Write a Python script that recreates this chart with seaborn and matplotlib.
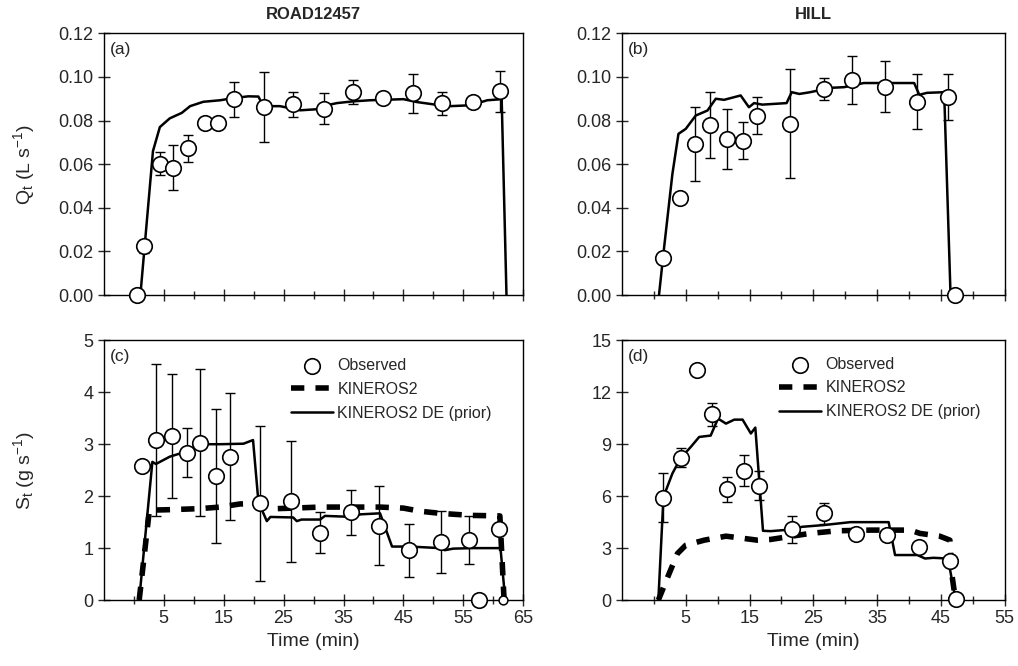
import numpy as np
import pandas as pd
import seaborn as sns
import matplotlib.pyplot as plt
from matplotlib.ticker import MultipleLocator, FixedLocator, FormatStrFormatter

# =============================================================================
# Data
# =============================================================================

# (a) ROAD12457 discharge
road_q_obs_t = [0.5, 1.7, 4.3, 6.5, 9.1, 11.9, 14.1, 16.7, 21.7, 26.6, 31.7, 36.6, 41.6, 46.6, 51.4, 56.6, 61.2]
road_q_obs = [0.0, 0.0224, 0.0603, 0.0583, 0.0672, 0.0789, 0.0790, 0.0898, 0.0863, 0.0875, 0.0855, 0.0931,
              0.0905, 0.0924, 0.0880, 0.0885, 0.0934]
road_q_err = [0.0, 0.003, 0.0054, 0.0103, 0.0063, 0.002, 0.0, 0.008, 0.016, 0.0057, 0.007, 0.0057,
              0.0, 0.009, 0.0053, 0.0, 0.0095]
road_q_de_t = [1.1, 3.2, 4.35, 6.0, 8.0, 9.4, 11.6, 14.4, 16.6, 19.1, 20.8, 21.6, 24.4, 27.8, 30.6, 32.2,
               33.9, 36.6, 39.4, 45.0, 47.2, 51.1, 52.8, 56.2, 59.0, 61.4, 62.2]
road_q_de = [0.0, 0.066, 0.077, 0.081, 0.0835, 0.0866, 0.0886, 0.0893, 0.0903, 0.0911, 0.0910, 0.0866,
             0.0866, 0.0847, 0.0852, 0.0870, 0.0880, 0.0888, 0.0893, 0.0898, 0.0885, 0.0870, 0.0866,
             0.0870, 0.0893, 0.0898, 0.0]

# (b) HILL discharge
hill_q_obs_t = [1.4, 4.1, 6.4, 8.8, 11.4, 13.9, 16.2, 21.3, 26.6, 31.1, 36.3, 41.3, 46.1, 47.2]
hill_q_obs = [0.0172, 0.0447, 0.0693, 0.0780, 0.0716, 0.0708, 0.0823, 0.0785, 0.0946, 0.0984, 0.0956,
              0.0887, 0.0907, 0.0]
hill_q_err = [0.0, 0.0, 0.017, 0.0153, 0.0138, 0.0084, 0.0084, 0.025, 0.005, 0.011, 0.0116, 0.0125,
              0.0106, 0.0]
hill_q_de_t = [0.8, 1.6, 2.9, 3.85, 5.0, 6.56, 8.4, 9.7, 11.0, 13.6, 14.9, 15.7, 17.0, 20.8, 21.6, 22.8,
               24.5, 27.7, 29.8, 32.9, 36.5, 40.8, 41.6, 42.8, 45.5, 46.5]
hill_q_de = [0.0, 0.0218, 0.0555, 0.0739, 0.0762, 0.0823, 0.0846, 0.0900, 0.0895, 0.0915, 0.0861, 0.0880,
             0.0873, 0.0880, 0.0930, 0.0922, 0.0930, 0.0950, 0.0953, 0.0972, 0.0972, 0.0972, 0.0918,
             0.0927, 0.0930, 0.0]

# (c) ROAD12457 sediment
road_s_obs_t = [1.3, 3.7, 6.3, 8.8, 11.0, 13.8, 16.1, 21.1, 26.3, 31.1, 36.2, 41.0, 46.0, 51.3, 55.9,
                57.6, 60.9]
road_s_obs = [2.58, 3.08, 3.16, 2.84, 3.03, 2.39, 2.76, 1.86, 1.90, 1.30, 1.69, 1.43, 0.96, 1.12, 1.15,
              0.0, 1.37]
road_s_err = [0.0, 1.47, 1.2, 0.47, 1.42, 1.29, 1.22, 1.5, 1.17, 0.4, 0.43, 0.76, 0.51, 0.6, 0.46,
              0.0, 0.0]
road_s_end_t = [61.7]   # last observation, drawn with a smaller circle
road_s_end = [0.0]
road_s_k2_t = [0.9, 2.6, 6.0, 11.0, 14.4, 17.7, 21.1, 23.8, 26.6, 31.1, 36.7, 41.1, 45.0, 47.8, 51.1,
               56.2, 61.1, 61.8]
road_s_k2 = [0.0, 1.73, 1.74, 1.76, 1.79, 1.85, 1.86, 1.76, 1.77, 1.79, 1.79, 1.79, 1.77, 1.71, 1.67,
             1.63, 1.62, 0.0]
road_s_de_t = [0.9, 3.1, 3.7, 6.0, 8.5, 11.0, 14.4, 18.3, 19.9, 20.8, 22.2, 22.8, 26.6, 27.2, 28.0, 31.1,
               31.9, 36.7, 37.8, 41.1, 43.1, 46.1, 51.1, 51.9, 53.3, 56.6, 61.2, 62.0]
road_s_de = [0.0, 2.66, 2.62, 2.76, 2.85, 3.0, 3.0, 3.01, 3.08, 1.89, 1.52, 1.60, 1.59, 1.52, 1.55, 1.55,
             1.62, 1.60, 1.65, 1.67, 1.03, 1.03, 1.00, 0.96, 0.99, 1.00, 1.00, 0.0]

# (d) HILL sediment
hill_s_obs_t = [1.5, 4.2, 6.7, 9.1, 11.5, 14.1, 16.5, 21.7, 26.6, 31.7, 36.5, 41.6, 46.4, 47.4]
hill_s_obs = [5.9, 8.23, 13.31, 10.73, 6.4, 7.46, 6.6, 4.08, 5.0, 3.79, 3.75, 3.08, 2.27, 0.06]
hill_s_err = [1.41, 0.55, 0.0, 0.67, 0.73, 0.89, 0.85, 0.77, 0.63, 0.0, 0.0, 0.0, 0.0, 0.0]
hill_s_k2_t = [0.7, 2.4, 3.7, 5.0, 7.9, 11.3, 14.1, 16.2, 18.3, 20.9, 24.5, 28.7, 33.9, 40.2, 41.7, 44.8,
               46.4, 46.7, 47.2, 47.4]
hill_s_k2 = [0.0, 1.54, 2.69, 3.17, 3.46, 3.69, 3.56, 3.46, 3.50, 3.65, 3.85, 4.0, 4.04, 4.04, 3.85, 3.69,
             3.46, 1.5, 0.2, 0.0]
hill_s_de_t = [0.7, 1.5, 2.9, 4.2, 5.8, 7.1, 8.9, 10.05, 11.3, 12.6, 13.9, 15.2, 15.9, 17.1, 18.3, 21.7,
               23.2, 26.6, 30.8, 36.8, 37.8, 41.3, 42.5, 43.8, 46.1, 47.2, 47.4]
hill_s_de = [0.0, 5.96, 7.31, 8.2, 8.85, 9.42, 9.5, 10.48, 10.19, 10.42, 10.42, 9.62, 9.96, 4.0, 3.98,
             4.08, 4.23, 4.33, 4.5, 4.5, 2.6, 2.6, 2.4, 2.44, 2.4, 0.2, 0.0]

# =============================================================================
# Style
# =============================================================================

sns.set_style("ticks")
plt.rcParams["font.family"] = ["Liberation Sans", "DejaVu Sans"]
plt.rcParams["mathtext.fontset"] = "custom"
plt.rcParams["mathtext.rm"] = "Liberation Sans"
plt.rcParams["mathtext.it"] = "Liberation Sans:italic"

TICK_FS = 13
LABEL_FS = 14

fig = plt.figure(figsize=(10.18, 6.66), dpi=100)
ax_a = fig.add_axes([0.102, 0.557, 0.412, 0.393])
ax_b = fig.add_axes([0.611, 0.557, 0.376, 0.393])
ax_c = fig.add_axes([0.102, 0.099, 0.412, 0.390])
ax_d = fig.add_axes([0.611, 0.099, 0.376, 0.390])


def draw_obs(ax, t, y, err):
    ax.errorbar(t, y, yerr=err, fmt="none", ecolor="black", elinewidth=1.0,
                capsize=3.5, capthick=1.0, zorder=2)
    sns.scatterplot(x=t, y=y, ax=ax, s=125, color="white", edgecolor="black",
                    linewidth=1.2, zorder=4, label="Observed", clip_on=False)


def draw_de(ax, t, y):
    sns.lineplot(x=t, y=y, ax=ax, sort=False, estimator=None, color="black",
                 linewidth=1.8, zorder=3, label="KINEROS2 DE (prior)")


def draw_k2(ax, t, y):
    sns.lineplot(x=t, y=y, ax=ax, sort=False, estimator=None, color="black",
                 linewidth=4.0, linestyle=(0, (2.4, 2.0)), zorder=3, label="KINEROS2")


def style_axes(ax, xmax, ylim, ystep, yfmt, tag):
    ax.set_xlim(-5, xmax)
    ax.set_ylim(*ylim)
    ax.xaxis.set_major_locator(FixedLocator(np.arange(5, xmax + 1, 10)))
    ax.xaxis.set_minor_locator(FixedLocator(np.arange(0, xmax, 10)))
    ax.yaxis.set_major_locator(MultipleLocator(ystep))
    ax.yaxis.set_major_formatter(FormatStrFormatter(yfmt))
    ax.tick_params(which="both", direction="inout", length=8, width=1.0,
                   labelsize=TICK_FS, top=False, right=False)
    ax.tick_params(which="minor", length=6)
    for sp in ax.spines.values():
        sp.set_linewidth(1.0)
        sp.set_color("black")
    ax.set_xlabel("")
    ax.set_ylabel("")
    ax.text(0.015, 0.965, tag, transform=ax.transAxes, ha="left", va="top", fontsize=12.5)


# (a)
draw_obs(ax_a, road_q_obs_t, road_q_obs, road_q_err)
draw_de(ax_a, road_q_de_t, road_q_de)
style_axes(ax_a, 65, (0, 0.12), 0.02, "%.2f", "(a)")
ax_a.set_xticklabels([])
ax_a.legend_.remove()
ax_a.set_title("ROAD12457", fontsize=12, fontweight="bold", pad=10)
ax_a.set_ylabel("Q$_\\mathrm{t}$ (L s$^{-1}$)", fontsize=LABEL_FS)

# (b)
draw_obs(ax_b, hill_q_obs_t, hill_q_obs, hill_q_err)
draw_de(ax_b, hill_q_de_t, hill_q_de)
style_axes(ax_b, 55, (0, 0.12), 0.02, "%.2f", "(b)")
ax_b.set_xticklabels([])
ax_b.legend_.remove()
ax_b.set_title("HILL", fontsize=12, fontweight="bold", pad=10)

# (c)
draw_obs(ax_c, road_s_obs_t, road_s_obs, road_s_err)
sns.scatterplot(x=road_s_end_t, y=road_s_end, ax=ax_c, s=40, color="white",
                edgecolor="black", linewidth=1.1, zorder=4, clip_on=False)
draw_k2(ax_c, road_s_k2_t, road_s_k2)
draw_de(ax_c, road_s_de_t, road_s_de)
style_axes(ax_c, 65, (0, 5), 1, "%d", "(c)")
ax_c.set_ylabel("S$_\\mathrm{t}$ (g s$^{-1}$)", fontsize=LABEL_FS)
ax_c.set_xlabel("Time (min)", fontsize=LABEL_FS)

# (d)
draw_obs(ax_d, hill_s_obs_t, hill_s_obs, hill_s_err)
draw_k2(ax_d, hill_s_k2_t, hill_s_k2)
draw_de(ax_d, hill_s_de_t, hill_s_de)
style_axes(ax_d, 55, (0, 15), 3, "%d", "(d)")
ax_d.set_xlabel("Time (min)", fontsize=LABEL_FS)

for ax in (ax_a, ax_c):
    ax.yaxis.set_label_coords(-0.16, 0.5)

for ax, anchor in ((ax_c, (0.952, 0.975)), (ax_d, (0.965, 0.98))):
    handles, labels = ax.get_legend_handles_labels()
    order = [labels.index(k) for k in ("Observed", "KINEROS2", "KINEROS2 DE (prior)")]
    ax.legend([handles[i] for i in order], [labels[i] for i in order],
              loc="upper right", bbox_to_anchor=anchor, frameon=False,
              fontsize=11.5, handlelength=2.6, handletextpad=0.3,
              labelspacing=0.55, borderaxespad=0.3)

fig.savefig("out.png", dpi=100)
